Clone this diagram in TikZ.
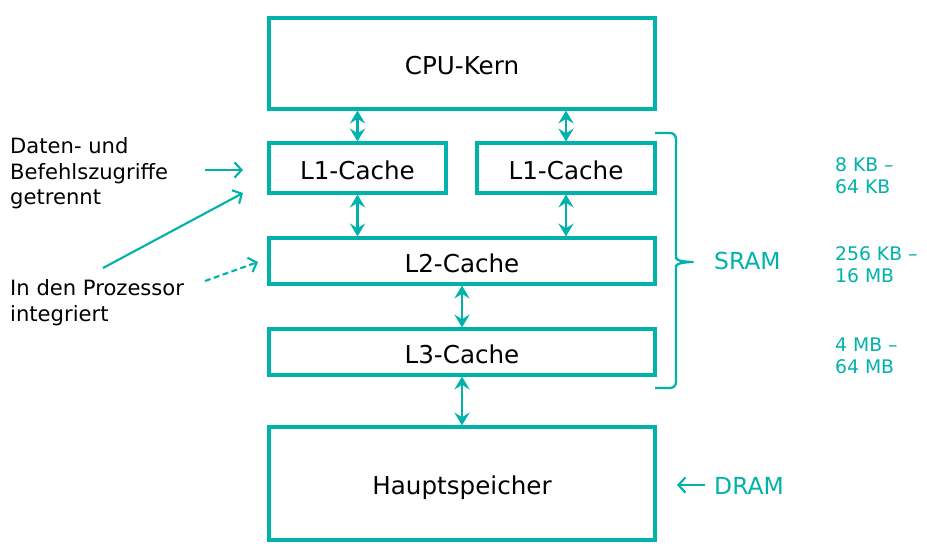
\documentclass[tikz,border=0pt]{standalone}
\usepackage{fontspec}
\setmainfont{DejaVu Sans}
\usetikzlibrary{arrows.meta,positioning}
\definecolor{tuerkis}{RGB}{0,178,169}

\begin{document}
\begin{tikzpicture}[x=0.03cm,y=-0.03cm,
every node/.style={font=\fontsize{20}{24}\selectfont},
box/.style={draw=tuerkis,line width=2.7pt,inner sep=0pt,text height=19pt,text depth=0pt,
  font=\fontsize{21}{25}\selectfont},
link/.style={tuerkis,line width=2pt,
  {Stealth[length=11pt,width=13pt,inset=4pt]}-{Stealth[length=11pt,width=13pt,inset=4pt]}},
hint/.style={tuerkis,line width=1.8pt,-{Straight Barb[length=6pt,width=13pt]}},
note/.style={anchor=west,align=left,inner sep=0pt,font=\fontsize{18}{22}\selectfont},
size/.style={anchor=west,align=left,inner sep=0pt,text=tuerkis,font=\fontsize{16}{19}\selectfont}]

\useasboundingbox (0,0) rectangle (927,546);

% Speicherhierarchie
\node[box,minimum width=11.58cm,minimum height=2.73cm] (K) at (462,63.5) {CPU-Kern};
\node[box,minimum width=5.31cm,minimum height=1.5cm] (L1a) at (357.5,168) {L1-Cache};
\node[box,minimum width=5.34cm,minimum height=1.5cm] (L1b) at (566,168) {L1-Cache};
\node[box,minimum width=11.58cm,minimum height=1.38cm] (L2) at (462,261) {L2-Cache};
\node[box,minimum width=11.58cm,minimum height=1.38cm] (L3) at (462,352) {L3-Cache};
\node[box,minimum width=11.58cm,minimum height=3.39cm] (H) at (462,483.5) {Hauptspeicher};

\draw[link] (L1a.north |- K.south) -- (L1a.north);
\draw[link] (L1b.north |- K.south) -- (L1b.north);
\draw[link] (L1a.south) -- (L1a.south |- L2.north);
\draw[link] (L1b.south) -- (L1b.south |- L2.north);
\draw[link] (L2.south) -- (L3.north);
\draw[link] (L3.south) -- (H.north);

% Hinweise links
\node[note] (T1) at (10,173.3) {Daten- und\\Befehlszugriffe\\getrennt};
\node[note] (T2) at (10,303) {In den Prozessor\\integriert};
\coordinate (T1a) at (205,170);
\coordinate (L1in) at (243,170);
\coordinate (T2a) at (103,268);
\coordinate (L1in2) at (243,193);
\coordinate (T2b) at (205,281);
\coordinate (L2in) at (258,262);
\draw[hint] (T1a) -- (L1in);
\draw[hint] (T2a) -- (L1in2);
\draw[hint,dash pattern=on 5pt off 3pt] (T2b) -- (L2in);

% Klammer und Speichertypen
\draw[tuerkis,line width=2pt,rounded corners=5pt] (655,133) -- (676,133) -- (676,252)
  to[out=-90,in=180] (697,262) to[out=180,in=90] (676,272) -- (676,388) -- (655,388);
\node[anchor=west,inner sep=0pt,text=tuerkis] (S) at (714,261) {SRAM};
\node[anchor=west,inner sep=0pt,text=tuerkis] (D) at (714,486) {DRAM};
\coordinate (Da) at (705,485);
\coordinate (Db) at (677,485);
\draw[hint] (Da) -- (Db);

\node[size] (G1) at (835,176) {8 KB –\\64 KB};
\node[size] (G2) at (835,265) {256 KB –\\16 MB};
\node[size] (G3) at (835,356) {4 MB –\\64 MB};
\end{tikzpicture}
\end{document}
